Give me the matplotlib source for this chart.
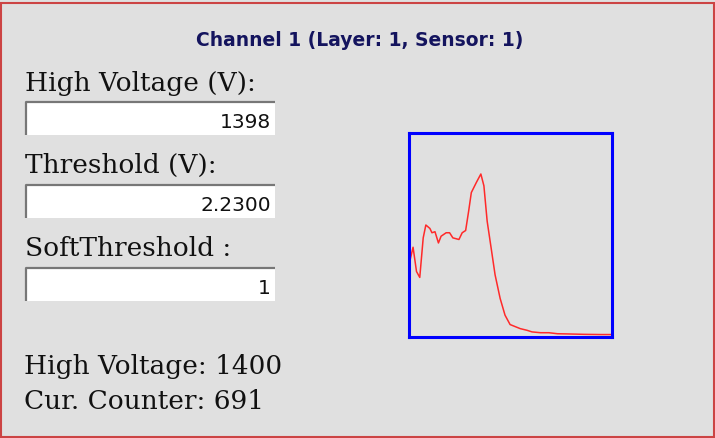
import matplotlib
matplotlib.use("Agg")
import matplotlib.pyplot as plt
from matplotlib.patches import Rectangle

# spectrum (x in % of range, y in % of height)
spec_x = [0, 2.0, 3.7, 5.3, 7.0, 8.3, 10.3, 11.3, 12.8, 14.5, 15.8, 18.3, 20.0,
          21.6, 24.6, 26.2, 27.9, 29.4, 30.7, 33.2, 35.4, 36.9, 38.5, 40.7,
          42.4, 44.9, 47.3, 49.8, 52.3, 54.8, 58.1, 60.6, 64.8, 68.9, 73.1,
          78.1, 86.4, 94.7, 99.3]
spec_y = [35.4, 44.0, 32.1, 29.2, 48.6, 54.9, 53.2, 51.1, 51.6, 46.1, 49.4,
          51.1, 51.1, 48.6, 47.8, 51.1, 52.2, 61.8, 70.8, 75.8, 79.9, 74.1,
          56.8, 42.0, 30.5, 18.9, 10.7, 6.1, 5.1, 4.1, 3.3, 2.5, 2.1, 2.1,
          1.6, 1.5, 1.3, 1.2, 1.2]

title = "Channel 1 (Layer: 1, Sensor: 1)"
field_labels = ["High Voltage (V):", "Threshold (V):", "SoftThreshold :"]
field_values = ["1398", "2.2300", "1"]
status_lines = ["High Voltage: 1400", "Cur. Counter: 691"]

W, H = 715, 438
fig = plt.figure(figsize=(W / 100, H / 100), dpi=100)
fig.patch.set_facecolor("#e0e0e0")

# pixel coordinates for the overlay, origin top-left
ov = fig.add_axes([0, 0, 1, 1])
ov.set_xlim(0, W)
ov.set_ylim(H, 0)
ov.axis("off")
ov.add_patch(Rectangle((1, 2.5), W - 2.5, H - 4, fill=False,
                       edgecolor="#cc4444", lw=1.5))

ov.text(359.5, 46, title, ha="center", va="baseline", color="#14145e",
        fontsize=13.5, fontweight="bold", family="DejaVu Sans")

label_base = [91, 173, 256]
box_top = [101, 184, 267]
for lab, val, lb, bt in zip(field_labels, field_values, label_base, box_top):
    ov.text(25, lb, lab, ha="left", va="baseline", color="#111111",
            fontsize=19, family="DejaVu Serif")
    ov.add_patch(Rectangle((25, bt), 250, 34, facecolor="white",
                           edgecolor="none"))
    ov.plot([25.5, 25.5, 275], [bt + 34, bt + 0.5, bt + 0.5],
            color="#777777", lw=1.6, solid_capstyle="butt")
    ov.text(271, bt + 27, val, ha="right", va="baseline", color="#111111",
            fontsize=14.5, family="DejaVu Sans")

for line, lb in zip(status_lines, [374, 409]):
    ov.text(24, lb, line, ha="left", va="baseline", color="#111111",
            fontsize=19, family="DejaVu Serif")

# the spectrum plot
ax = fig.add_axes([409 / W, 1 - 337 / H, 203 / W, 204 / H])
ax.set_facecolor("#e0e0e0")
ax.plot(spec_x, spec_y, color="#ff2a2a", lw=1.1)
ax.set_xlim(0, 100)
ax.set_ylim(0, 100)
ax.set_xticks([])
ax.set_yticks([])
for s in ax.spines.values():
    s.set_color("#0000ff")
    s.set_linewidth(2.2)

fig.savefig("out.png", dpi=100, facecolor=fig.get_facecolor())
